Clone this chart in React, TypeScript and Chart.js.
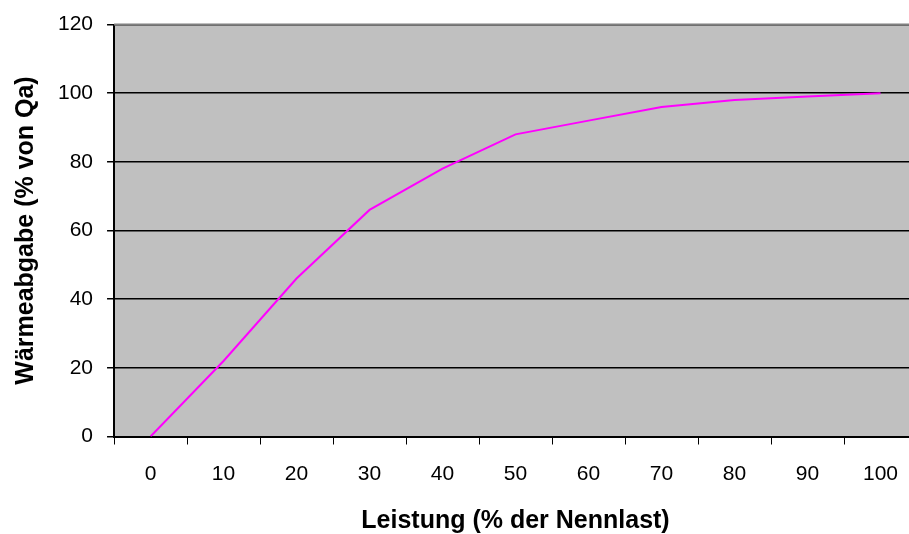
import React, { useEffect, useRef } from "react";
import { Chart, registerables } from "chart.js";

Chart.register(...registerables);

const categories = ["0", "10", "20", "30", "40", "50", "60", "70", "80", "90", "100"];
const heatOutput = [0, 22, 46, 66, 78, 88, 92, 96, 98, 99, 100];
const xTitle = "Leistung (% der Nennlast)";
const yTitle = "Wärmeabgabe (% von Qa)";

const plotBg = {
  id: "plotBg",
  beforeDraw(chart: any) {
    const { ctx, chartArea } = chart;
    if (!chartArea) return;
    ctx.save();
    ctx.fillStyle = "#C0C0C0";
    ctx.fillRect(chartArea.left, chartArea.top, chartArea.right - chartArea.left, chartArea.bottom - chartArea.top);
    ctx.restore();
  },
  afterDatasetsDraw(chart: any) {
    const { ctx, chartArea } = chart;
    ctx.save();
    ctx.strokeStyle = "#808080";
    ctx.lineWidth = 2;
    ctx.beginPath();
    ctx.moveTo(chartArea.left, chartArea.top);
    ctx.lineTo(chartArea.right, chartArea.top);
    ctx.stroke();
    ctx.restore();
  },
};

export default function App() {
  const ref = useRef<HTMLCanvasElement>(null);
  useEffect(() => {
    document.body.style.margin = "0";
    const font = "'Liberation Sans', Arial, sans-serif";
    const chart = new Chart(ref.current!, {
      type: "line",
      data: {
        labels: categories,
        datasets: [
          {
            data: heatOutput,
            borderColor: "#FF00FF",
            borderWidth: 2,
            pointRadius: 0,
            tension: 0,
            fill: false,
          },
        ],
      },
      plugins: [plotBg],
      options: {
        animation: false,
        responsive: false,
        maintainAspectRatio: false,
        layout: { padding: { top: 12, right: 3, left: 1, bottom: 0 } },
        plugins: { legend: { display: false }, tooltip: { enabled: false } },
        scales: {
          x: {
            offset: true,
            grid: {
              offset: true,
              drawOnChartArea: false,
              drawTicks: true,
              tickLength: 8,
              color: "#000000",
            },
            border: { color: "#000000", width: 2 },
            ticks: { color: "#000000", font: { family: font, size: 21, lineHeight: 1 }, padding: 19, maxRotation: 0, autoSkip: false },
            title: { display: true, text: xTitle, color: "#000000", font: { family: font, size: 25, weight: "bold", lineHeight: 1 }, padding: { top: 5.5, bottom: 0 } },
          },
          y: {
            min: 0,
            max: 120,
            ticks: { stepSize: 20, color: "#000000", font: { family: font, size: 21, lineHeight: 1 }, padding: 14 },
            grid: { color: "#000000", lineWidth: 1.5, tickLength: 7, drawTicks: true },
            border: { color: "#000000", width: 2 },
            title: { display: true, text: yTitle, color: "#000000", font: { family: font, size: 25, weight: "bold" }, padding: { top: 10, bottom: 3 } },
          },
        },
      },
    });
    return () => chart.destroy();
  }, []);
  return (
    <div style={{ position: "absolute", left: 0, top: 0, width: 909, height: 534, overflow: "hidden", background: "#fff" }}>
      <canvas ref={ref} width={920} height={534} style={{ width: 920, height: 534 }} />
    </div>
  );
}
